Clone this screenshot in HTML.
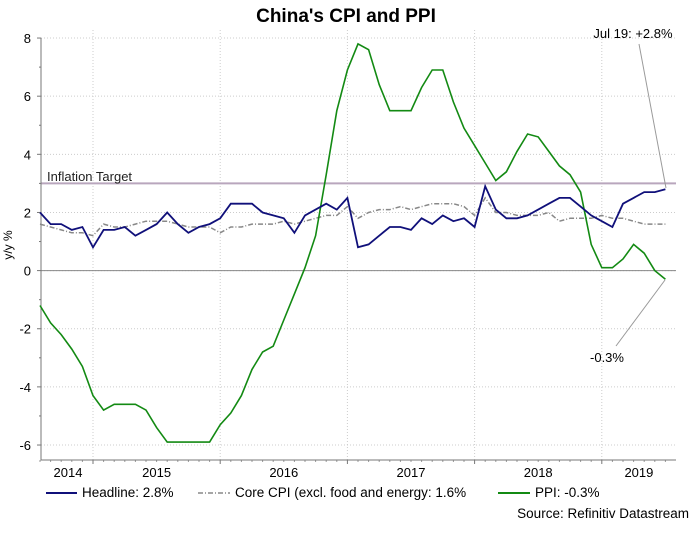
<!DOCTYPE html>
<html><head><meta charset="utf-8">
<style>
body{margin:0;background:#fff;font-family:"Liberation Sans",Arial,sans-serif;}
svg text{font-family:"Liberation Sans",Arial,sans-serif;}
</style></head>
<body>
<svg width="693" height="550" viewBox="0 0 693 550" xmlns="http://www.w3.org/2000/svg">
<rect width="693" height="550" fill="#fff"/>
<text x="346" y="22" text-anchor="middle" font-size="19" font-weight="bold">China's CPI and PPI</text>
<g id="grid"></g>
<g id="axes"></g>
<g id="series"></g>
<text x="12" y="245" font-size="12" text-anchor="middle" transform="rotate(-90 12 245)">y/y %</text>
<text x="47" y="181" font-size="13" fill="#222">Inflation Target</text>
<text x="633" y="38" font-size="13" text-anchor="middle">Jul 19: +2.8%</text>
<line x1="639" y1="44" x2="666" y2="188" stroke="#999" stroke-width="1"/>
<text x="607" y="362" font-size="13" text-anchor="middle">-0.3%</text>
<line x1="616" y1="346" x2="665" y2="280" stroke="#999" stroke-width="1"/>
<g>
<line x1="46" y1="493" x2="77" y2="493" stroke="#10107a" stroke-width="2"/>
<text x="82" y="497" font-size="13.5">Headline: 2.8%</text>
<line x1="198" y1="493" x2="230" y2="493" stroke="#888" stroke-width="1.5" stroke-dasharray="5,2,1,2"/>
<text x="235" y="497" font-size="13.5">Core CPI (excl. food and energy: 1.6%</text>
<line x1="498" y1="493" x2="530" y2="493" stroke="#138a13" stroke-width="2"/>
<text x="535" y="497" font-size="13.5">PPI: -0.3%</text>
</g>
<text x="689" y="518" font-size="13.5" text-anchor="end">Source: Refinitiv Datastream</text>
</svg>
<script>
// Monthly data Aug 2014 .. Jul 2019
const startMonth = "2014-08";
const headline = [2.0,1.6,1.6,1.4,1.5,0.8,1.4,1.4,1.5,1.2,1.4,1.6,2.0,1.6,1.3,1.5,1.6,1.8,2.3,2.3,2.3,2.0,1.9,1.8,1.3,1.9,2.1,2.3,2.1,2.5,0.8,0.9,1.2,1.5,1.5,1.4,1.8,1.6,1.9,1.7,1.8,1.5,2.9,2.1,1.8,1.8,1.9,2.1,2.3,2.5,2.5,2.2,1.9,1.7,1.5,2.3,2.5,2.7,2.7,2.8];
const coreCpi = [1.6,1.5,1.4,1.3,1.3,1.2,1.6,1.5,1.5,1.6,1.7,1.7,1.7,1.6,1.5,1.5,1.5,1.3,1.5,1.5,1.6,1.6,1.6,1.7,1.6,1.7,1.8,1.9,1.9,2.2,1.8,2.0,2.1,2.1,2.2,2.1,2.2,2.3,2.3,2.3,2.2,1.9,2.5,2.0,2.0,1.9,1.9,1.9,2.0,1.7,1.8,1.8,1.8,1.9,1.8,1.8,1.7,1.6,1.6,1.6];
const ppi = [-1.2,-1.8,-2.2,-2.7,-3.3,-4.3,-4.8,-4.6,-4.6,-4.6,-4.8,-5.4,-5.9,-5.9,-5.9,-5.9,-5.9,-5.3,-4.9,-4.3,-3.4,-2.8,-2.6,-1.7,-0.8,0.1,1.2,3.3,5.5,6.9,7.8,7.6,6.4,5.5,5.5,5.5,6.3,6.9,6.9,5.8,4.9,4.3,3.7,3.1,3.4,4.1,4.7,4.6,4.1,3.6,3.3,2.7,0.9,0.1,0.1,0.4,0.9,0.6,0.0,-0.3];
const yTicks = [-6,-4,-2,0,2,4,6,8];
const yearLabels = ["2014","2015","2016","2017","2018","2019"];
const inflationTarget = 3;

const NS="http://www.w3.org/2000/svg";
const L=41,R=676,T=30,B=460;
const x0=40, mw=10.6;
function xs(i){return x0+i*mw;}
function ys(v){return 270.6 - v*29.07;}
function mk(tag,attrs,parent){const e=document.createElementNS(NS,tag);for(const k in attrs)e.setAttribute(k,attrs[k]);parent.appendChild(e);return e;}
const grid=document.getElementById('grid'),axes=document.getElementById('axes'),ser=document.getElementById('series');

yTicks.forEach(v=>{
  const g=mk('line',{x1:L,x2:R,y1:ys(v),y2:ys(v),stroke:'#ccc','stroke-dasharray':'1,2'},grid);
  
  
  const t=mk('line',{x1:L-4,x2:L,y1:ys(v),y2:ys(v),stroke:'#777'},axes);
  
  
  const lb=mk('text',{x:L-10,y:ys(v)+5,'font-size':13,'text-anchor':'end'},axes);
  lb.textContent=v;
  
  
});
for(let v=-6;v<=8;v++){ if(v%2){const m=mk('line',{x1:L-2,x2:L,y1:ys(v),y2:ys(v),stroke:'#777'},axes);
  
  }}
yearLabels.forEach((y,k)=>{
  const bi=5+12*(k-1);
  if(k>0){
    const bx=xs(bi);
    const g=mk('line',{x1:bx,x2:bx,y1:T,y2:B,stroke:'#ccc','stroke-dasharray':'1,2'},grid);
    
    
    const t=mk('line',{x1:bx,x2:bx,y1:B,y2:B+4,stroke:'#777'},axes);
    
    
  }
  const s=k===0?0:bi;
  const cx=k===0?(L+xs(5))/2+1:(xs(s)+Math.min(xs(bi+12),R))/2;
  const lb=mk('text',{x:cx,y:477,'font-size':13,'text-anchor':'middle'},axes);
  lb.textContent=y;
  
  
});
for(let i=0;i<60;i++){ if((i-5)%12!==0){const m=mk('line',{x1:xs(i),x2:xs(i),y1:B,y2:B+2,stroke:'#999'},axes);
  
  }}
const ax=mk('path',{d:`M${L},${T+8} V${B} H${R}`,fill:'none',stroke:'#777'},axes);


const z=mk('line',{x1:L,x2:R,y1:ys(0),y2:ys(0),stroke:'#888'},grid);


const it=mk('line',{x1:L,x2:R,y1:ys(inflationTarget),y2:ys(inflationTarget),stroke:'#b9a6bd','stroke-width':2},grid);



function path(arr){return arr.map((v,i)=>(i?'L':'M')+xs(i).toFixed(1)+','+ys(v).toFixed(1)).join(' ');}
const pc=mk('path',{d:path(coreCpi),fill:'none',stroke:'#888','stroke-width':1.5,'stroke-dasharray':'5,2,1,2'},ser);


const pp=mk('path',{d:path(ppi),fill:'none',stroke:'#138a13','stroke-width':1.6},ser);


const ph=mk('path',{d:path(headline),fill:'none',stroke:'#10107a','stroke-width':1.8},ser);


</script>
</body></html>
